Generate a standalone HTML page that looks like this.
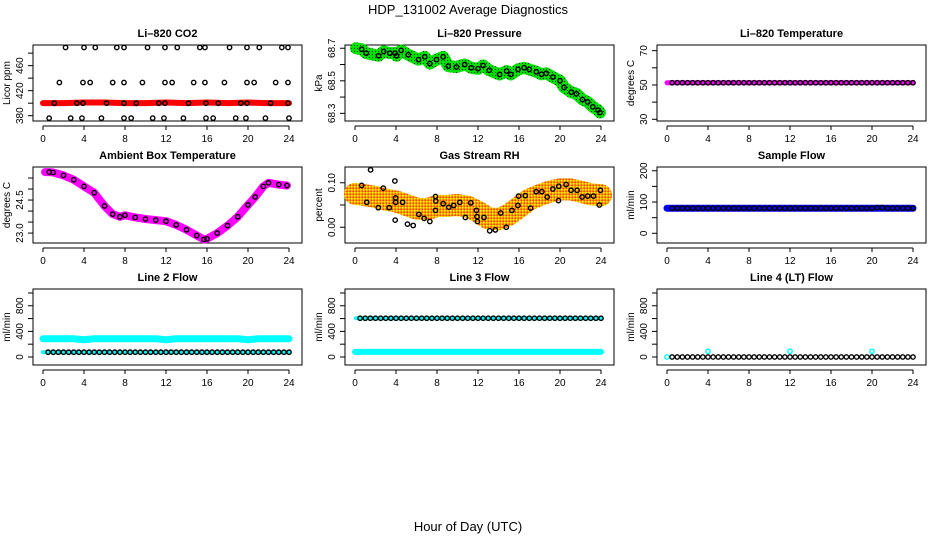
<!DOCTYPE html>
<html><head><meta charset="utf-8"><style>
body{margin:0;background:#fff}
svg text{font-family:"Liberation Sans",sans-serif}
</style></head><body>
<svg id="c" width="936" height="540" xmlns="http://www.w3.org/2000/svg">
<defs>
<pattern id="pg" width="3" height="3" patternUnits="userSpaceOnUse"><rect width="3" height="3" fill="#00e000"/><rect width="1" height="1" fill="#104010"/></pattern>
<pattern id="po" width="3" height="3" patternUnits="userSpaceOnUse"><rect width="3" height="3" fill="#f0a800"/><rect width="1.5" height="1.5" fill="#ffee00"/><rect x="1.5" y="1.5" width="1.5" height="1.5" fill="#ff4000"/></pattern>
</defs>
<text x="468" y="14" font-size="13" text-anchor="middle">HDP_131002  Average Diagnostics</text>
<text x="468" y="531" font-size="13" text-anchor="middle">Hour of Day (UTC)</text>
</svg>
<script>
// ---- data ----
const co2Hours=[0,2,4,6,8,10,12,14,16,18,20,22,24];
const co2Red=[400,400,401,401,400,400,401,400,401,400,401,400,400];
const co2TopH=[2.2,4.0,5.1,7.2,7.9,10.2,11.9,13.1,15.3,15.8,18.2,19.9,21.1,23.3,23.9];
const co2MidH=[1.6,3.9,4.6,6.8,7.9,9.7,11.9,12.6,14.7,15.8,17.7,19.9,20.6,22.7,23.9];
const co2BandH=[1.1,3.3,3.9,6.2,7.9,9.1,11.3,11.9,14.2,15.9,17.1,19.3,19.9,22.2,23.9];
const co2LowH=[0.6,2.7,3.8,5.7,7.9,8.6,10.7,11.8,13.7,15.9,16.6,18.8,19.8,21.7,24.0];
const co2Levels=[489,433,400,376];
const presH=[0.1,0.65,1.1,2.3,2.8,3.4,3.9,4.05,4.5,5.2,6.2,6.8,7.3,7.95,8.6,9.1,9.9,10.7,11.35,12,12.5,13.1,14.1,14.8,15.2,15.9,16.5,17,17.7,18.2,18.65,19.3,20,20.4,21.1,21.6,22.2,22.7,23.2,23.7,23.9];
const presV=[68.7,68.694,68.67,68.654,68.68,68.67,68.67,68.654,68.687,68.66,68.63,68.647,68.606,68.63,68.647,68.59,68.585,68.6,68.58,68.574,68.594,68.565,68.539,68.56,68.539,68.57,68.58,68.57,68.555,68.54,68.546,68.523,68.5,68.46,68.43,68.42,68.385,68.37,68.34,68.32,68.305];
const tempV=[51.3,51.3,51.3,51.3,51.3,51.3,51.3,51.3,51.3,51.3,51.3,51.3,51.3,51.3,51.3,51.3,51.3,51.3,51.3,51.3,51.3,51.3,51.3,51.3,51.3,51.3,51.3,51.3,51.3,51.3,51.3,51.3,51.3,51.3,51.3,51.3,51.3,51.3,51.3,51.3,51.3,51.3,51.3,51.3,51.3,51.3,51.3,51.3];
const ambH=[0.2,0.6,1,2,3,4,5,6,6.8,7.5,8,9,10,11,12,13,14,15,15.7,16,17,18,19,20,20.7,21.5,22,23,23.8];
const ambV=[25.77,25.77,25.75,25.62,25.42,25.12,24.83,24.23,23.86,23.74,23.81,23.71,23.64,23.59,23.54,23.37,23.15,22.89,22.71,22.74,23.0,23.34,23.74,24.28,24.64,25.12,25.28,25.20,25.16];
const rhH=[0.65,1.52,1.14,2.27,2.76,3.34,3.89,3.96,3.96,3.92,4.64,5.12,5.68,6.23,6.75,7.3,7.85,7.88,7.85,8.6,9.15,9.63,10.22,10.77,11.29,11.84,11.9,11.94,12.58,13.14,13.69,14.21,14.76,15.31,15.89,15.96,16.61,17.13,17.68,18.23,18.75,19.3,19.85,19.88,20.6,21.08,21.67,22.15,22.7,23.26,23.84,23.94];
const rhV=[0.094,0.129,0.056,0.044,0.088,0.044,0.104,0.066,0.056,0.016,0.056,0.007,0.004,0.029,0.020,0.013,0.069,0.059,0.038,0.053,0.045,0.049,0.056,0.022,0.055,0.038,0.024,0.013,0.022,-0.008,-0.006,0.032,0.000,0.038,0.049,0.070,0.071,0.043,0.080,0.080,0.068,0.086,0.060,0.092,0.096,0.083,0.083,0.068,0.070,0.070,0.050,0.083];
const rhTrendH=[0,1,2,3,4,5,6,7,8,9,10,11,12,13,14,15,16,17,18,19,20,21,22,23,24];
const rhTrendV=[0.075,0.072,0.068,0.062,0.058,0.05,0.042,0.04,0.048,0.048,0.05,0.046,0.035,0.02,0.018,0.028,0.045,0.062,0.072,0.08,0.085,0.085,0.08,0.074,0.072];
const flowV=[80,80,80,80,80,80,80,80,80,80,80,80,80,80,80,80,80,80,80,80,80,80,80,80,80,80,80,80,80,80,80,80,80,80,80,80,80,80,80,80,82,82,80,80,80,80,80,80];
const line2Cyan=[285,285,285,285,270,285,285,285,285,285,285,285,270,285,285,285,285,285,285,285,270,285,285,285,285];
const line2Black=[75,75,75,75,75,75,75,75,75,75,75,75,75,75,75,75,75,75,75,75,75,75,75,75,75,75,75,75,75,75,75,75,75,75,75,75,75,75,75,75,75,75,75,75,75,75,75,75];
const line3Top=[605,605,605,605,605,605,605,605,605,605,605,605,605,605,605,605,605,605,605,605,605,605,605,605,605,605,605,605,605,605,605,605,605,605,605,605,605,605,605,605,605,605,605,605,605,605,605,605];
const line3Cyan=[80,80,80,80,80,80,80,80,80,80,80,80,80,80,80,80,80,80,80,80,80,80,80,80,80];
const line4Black=[0,0,0,0,0,0,0,0,0,0,0,0,0,0,0,0,0,0,0,0,0,0,0,0,0,0,0,0,0,0,0,0,0,0,0,0,0,0,0,0,0,0,0,0,0,0,0,0];
const line4SpikeH=[0,4,12,20];
const line4SpikeV=[0,90,90,90];
const xTicks=[0,4,8,12,16,20,24];

// ---- drawing ----
const NS="http://www.w3.org/2000/svg";
const svg=document.getElementById('c');
const h48=[];for(let i=1;i<=48;i++)h48.push(i*0.5);
const h25=[];for(let i=0;i<=24;i++)h25.push(i);
function el(tag,attrs,parent){const e=document.createElementNS(NS,tag);for(const k in attrs)e.setAttribute(k,attrs[k]);(parent||svg).appendChild(e);return e;}
function panel(c,r,title,ytitle,dom,ticks,labels,name){
  const g=el('g',{});
  
  
  const x0=33+312*c,x1=302+312*c,y0=45+122*r,y1=121+122*r;
  const X=h=>43+312*c+h*10.25;
  const Y=v=>y1-(v-dom[0])/(dom[1]-dom[0])*(y1-y0);
  const t=el('text',{x:(x0+x1)/2,y:y0-8,'font-size':11,'font-weight':'bold','text-anchor':'middle'},g);t.textContent=title;
  
  
  const ax=el('g',{stroke:'#000','stroke-width':1},g);
  
  
  el('line',{x1:X(0),x2:X(24),y1:y1+5,y2:y1+5},ax);
  xTicks.forEach(v=>{el('line',{x1:X(v),x2:X(v),y1:y1+5,y2:y1+9},ax);
    const l=el('text',{x:X(v),y:y1+21,'font-size':10,'text-anchor':'middle',stroke:'none'},ax);l.textContent=v;});
  const ay=el('g',{stroke:'#000','stroke-width':1},g);
  
  
  ticks.forEach(v=>el('line',{x1:x0-5,x2:x0,y1:Y(v),y2:Y(v)},ay));
  labels.forEach(v=>{const l=el('text',{x:0,y:0,'font-size':10,'text-anchor':'middle',stroke:'none',transform:`translate(${x0-10},${Y(v)}) rotate(-90)`},ay);l.textContent=v;});
  const yt=el('text',{'font-size':10,'text-anchor':'middle',transform:`translate(${x0-23},${(y0+y1)/2}) rotate(-90)`},g);yt.textContent=ytitle;
  
  
  el('rect',{x:x0,y:y0,width:x1-x0,height:y1-y0,fill:'none',stroke:'#000','stroke-width':1},g);
  return {g,X,Y};
}
function band(p,hs,vs,stroke,w,name){
  const pl=el('polyline',{points:hs.map((h,i)=>p.X(h)+','+p.Y(vs[i])).join(' '),fill:'none',stroke:stroke,'stroke-width':w,'stroke-linejoin':'round','stroke-linecap':'round'},p.g);
  
  
}
function pts(p,hs,vs,color,name){
  const g=el('g',{fill:'none',stroke:color,'stroke-width':1.4},p.g);
  
  
  hs.forEach((h,i)=>{const c=el('circle',{cx:p.X(h),cy:p.Y(vs[i]),r:2.2},g);
    
    });
}
// 1 CO2
let p=panel(0,0,'Li–820 CO2','Licor ppm',[371.5,493],[380,400,420,440,460,480],[380,420,460],'co2');
band(p,co2Hours,co2Red,'#ff0000',6,'co2-red-band');
pts(p,co2TopH,co2TopH.map(()=>co2Levels[0]),'#000','co2-top-points');
pts(p,co2MidH,co2MidH.map(()=>co2Levels[1]),'#000','co2-mid-points');
pts(p,co2BandH,co2BandH.map(()=>co2Levels[2]),'#000','co2-band-points');
pts(p,co2LowH,co2LowH.map(()=>co2Levels[3]),'#000','co2-low-points');
// 2 Pressure
p=panel(1,0,'Li–820 Pressure','kPa',[68.253,68.72],[68.3,68.4,68.5,68.6,68.7],['68.3','68.5','68.7'],'pressure');
band(p,presH,presV,'url(#pg)',12,'pressure-green-band');
pts(p,presH.slice(1),presV.slice(1),'#000','pressure-points');
// 3 Temp
p=panel(2,0,'Li–820 Temperature','degrees C',[29.0,73.3],[30,40,50,60,70],[30,50,70],'li820-temp');
band(p,[0,24],[tempV[0],tempV[47]],'#ff00ff',5,'temp-magenta-band');
pts(p,h48,tempV,'#000','temp-points');
// 4 Ambient
p=panel(0,1,'Ambient Box Temperature','degrees C',[22.55,26.0],[23,23.5,24,24.5,25,25.5],['23.0','24.5'],'ambient-temp');
band(p,ambH,ambV,'#ff00ff',8,'ambient-magenta-band');
pts(p,ambH.slice(1),ambV.slice(1),'#000','ambient-points');
// 5 RH
p=panel(1,1,'Gas Stream RH','percent',[-0.0354,0.1354],[0,0.05,0.1],['0.00','0.10'],'rh');
band(p,rhTrendH,rhTrendV,'url(#po)',22,'rh-orange-band');
pts(p,rhH,rhV,'#000','rh-points');
// 6 Sample flow
p=panel(2,1,'Sample Flow','ml/min',[-31,212],[0,50,100,150,200],[0,100,200],'sample-flow');
band(p,[0,24],[flowV[0],flowV[47]],'#0000ff',7,'sample-flow-blue-band');
pts(p,h48,flowV,'#000','sample-flow-points');
// 7 Line 2
p=panel(0,2,'Line 2 Flow','ml/min',[-125,1062],[0,200,400,600,800,1000],[0,400,800],'line2-flow');
band(p,h25,line2Cyan,'#00ffff',7,'line2-cyan-band');
band(p,[0,24],[line2Black[0],line2Black[47]],'#00ffff',4,'line2-cyan-low');
pts(p,h48,line2Black,'#000','line2-points');
// 8 Line 3
p=panel(1,2,'Line 3 Flow','ml/min',[-125,1062],[0,200,400,600,800,1000],[0,400,800],'line3-flow');
band(p,h25,line3Cyan,'#00ffff',6,'line3-cyan-band');
band(p,[0.1,24],[line3Top[0],line3Top[47]],'#00ffff',4,'line3-cyan-top');
pts(p,h48,line3Top,'#000','line3-points');
// 9 Line 4
p=panel(2,2,'Line 4 (LT) Flow','ml/min',[-125,1062],[0,200,400,600,800,1000],[0,400,800],'line4-flow');
pts(p,line4SpikeH,line4SpikeV,'#00ffff','line4-cyan-points');
pts(p,h48,line4Black,'#000','line4-points');
</script>
</body></html>
